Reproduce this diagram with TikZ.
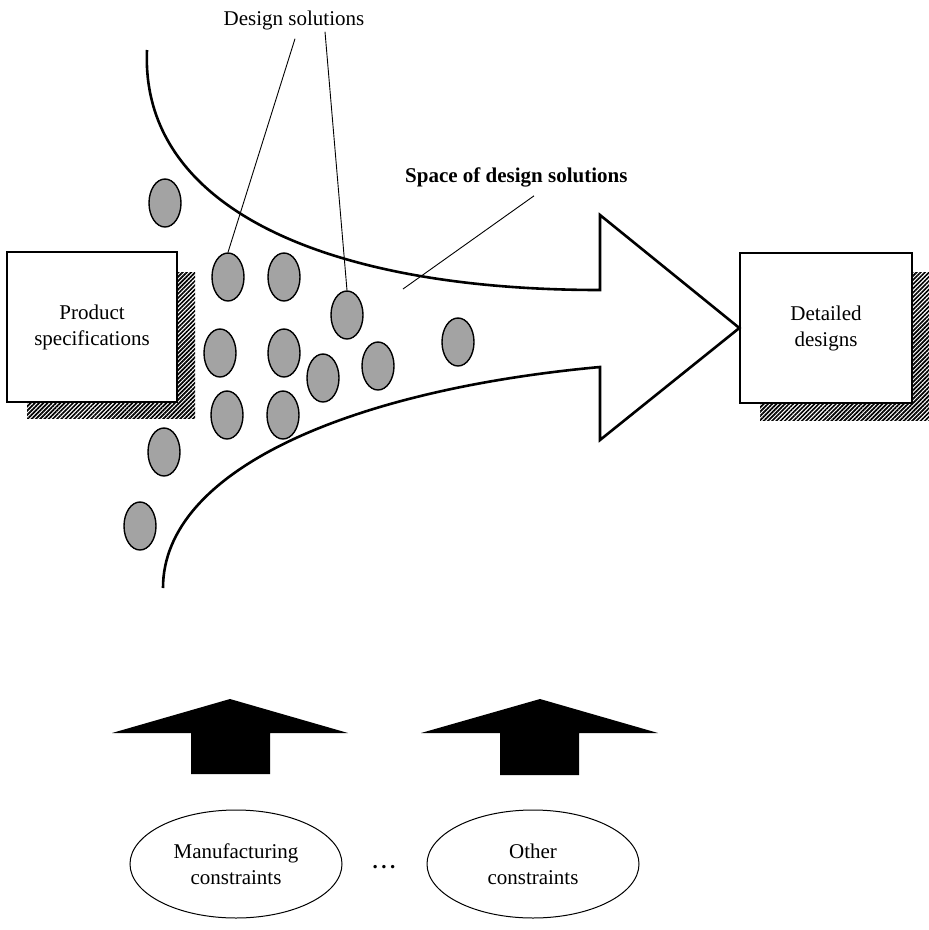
\documentclass[tikz,border=0pt]{standalone}
\usepackage{fontspec}
\setmainfont{Liberation Serif}
\usetikzlibrary{shapes.geometric,patterns.meta}
\begin{document}
\begin{tikzpicture}[x=1pt,y=-1pt,
  lbl/.style={font=\fontsize{21}{26}\selectfont,inner sep=0pt,align=center},
  box/.style={lbl,draw,line width=1.3pt,fill=white,minimum width=170pt,minimum height=150pt},
  hatch/.style={pattern={Lines[angle=45,distance=3pt,line width=1.7pt]}},
  sol/.style={ellipse,draw,line width=1.4pt,fill=black!36,minimum width=32pt,minimum height=48pt,inner sep=0pt},
  cons/.style={lbl,ellipse,draw,line width=1pt,minimum width=212pt,minimum height=108pt},
  leader/.style={line width=0.9pt},
  flow/.style={line width=2.6pt,line join=miter},
  uparrow/.style={fill=black}
]
\useasboundingbox (0,0) rectangle (929,930);

% shadows
\fill[hatch] (27,272) rectangle (195,418);
\fill[hatch] (760,272) rectangle (929,420);

% boxes
\node[box] (ps) at (92,327) {Product\\specifications};
\node[box,minimum width=172pt] (dd) at (826,328) {Detailed\\designs};

% big arrow (space of design solutions)
\draw[flow] (147,50) .. controls (140,210) and (330,290) .. (600,290)
  -- (600,215) -- (dd.west) -- (600,440) -- (600,367)
  .. controls (350,390) and (163,470) .. (163,588);

% design solutions
\node[sol] (e1) at (165,203) {};
\node[sol] (e2) at (228,277) {};
\node[sol] (e3) at (284,277) {};
\node[sol] (e4) at (347,315) {};
\node[sol] (e5) at (220,353) {};
\node[sol] (e6) at (284,353) {};
\node[sol] (e7) at (323,378) {};
\node[sol] (e8) at (378,366) {};
\node[sol] (e9) at (458,342) {};
\node[sol] (e10) at (227,415) {};
\node[sol] (e11) at (283,415) {};
\node[sol] (e12) at (164,452) {};
\node[sol] (e13) at (140,526) {};

% labels
\node[lbl,anchor=base] (ds) at (294,25) {Design solutions};
\draw[leader] ([xshift=1pt,yshift=-9pt]ds.south) -- (e2.north);
\draw[leader] ([xshift=31pt,yshift=-2pt]ds.south) -- (e4.north);

\node[lbl,font=\fontsize{21}{26}\selectfont\bfseries,anchor=base west] (sp) at (405,182) {Space of design solutions};
\coordinate (spend) at (403,289);
\draw[leader] ([xshift=129pt,yshift=-9pt]sp.south west) -- (spend);

% constraint arrows
\path[uparrow] (112,733) -- (230,699) -- (348,733) -- (270,733) -- (270,774) -- (191,774) -- (191,733) -- cycle;
\path[uparrow] (421,733) -- (540,699) -- (658,733) -- (579,733) -- (579,775) -- (500,775) -- (500,733) -- cycle;

% constraints
\node[cons] (mc) at (236,864) {Manufacturing\\constraints};
\node[lbl,font=\fontsize{21}{26}\selectfont\bfseries,anchor=base] (dots) at (384,868) {.\hspace{3.5pt}.\hspace{3.5pt}.};
\node[cons] (oc) at (533,864) {Other\\constraints};
\end{tikzpicture}
\end{document}
